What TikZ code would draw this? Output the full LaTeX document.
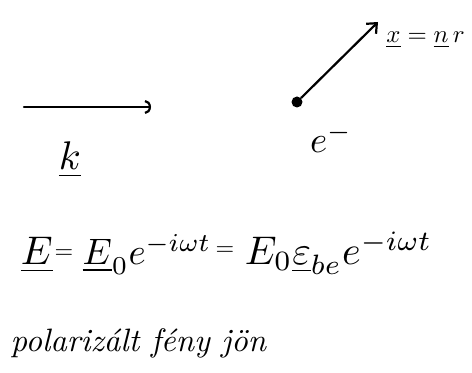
\documentclass[tikz,border=0pt]{standalone}
\usepackage{amsmath,amssymb}
\usepackage{tikz}
\usetikzlibrary{arrows.meta}

\begin{document}
\begin{tikzpicture}[x=0.5pt,y=-0.5pt,
  hand/.style={line width=1.1pt,line cap=round},
  big/.style={scale=2,inner sep=0pt}]
  \useasboundingbox (0,0) rectangle (472,373);
  % incoming light
  \coordinate (kstart) at (24,107);
  \coordinate (kend) at (151,107);
  \draw[hand,-{Arc Barb[length=3pt,width=7pt]}] (kstart) -- (kend);
  \node[big] (k) at (70,160) {$\underline{k}$};
  % electron
  \node[circle,fill,inner sep=0pt,minimum size=5.5pt] (el) at (297,102) {};
  \coordinate (xend) at (378,22);
  \draw[hand,-{Straight Barb[length=4pt,width=7pt]}] (el) -- (xend);
  \node[big,scale=0.92] (elab) at (331,138) {$e^-$};
  \node[big,scale=0.62,anchor=west] (xlab) at (386,40) {$\underline{x}=\underline{n}\,r$};
  % field
  \node[big,anchor=base west] (lhs) at (20,265) {$\underline{E}$};
  \node[big,scale=0.6,anchor=base] (eqa) at (64,259) {$=$};
  \node[big,scale=0.92,anchor=base west] (rhsa) at (82,265) {$\underline{E}_0 e^{-i\omega t}$};
  \node[big,scale=0.6,anchor=base] (eqb) at (225,256) {$=$};
  \node[big,anchor=base west] (rhsb) at (244,265) {$E_0 \underline{\varepsilon}_{be} e^{-i\omega t}$};
  % text
  \node[big,scale=0.81,anchor=base west,font=\itshape] (pol) at (10,352) {polarizált fény jön};
\end{tikzpicture}
\end{document}
